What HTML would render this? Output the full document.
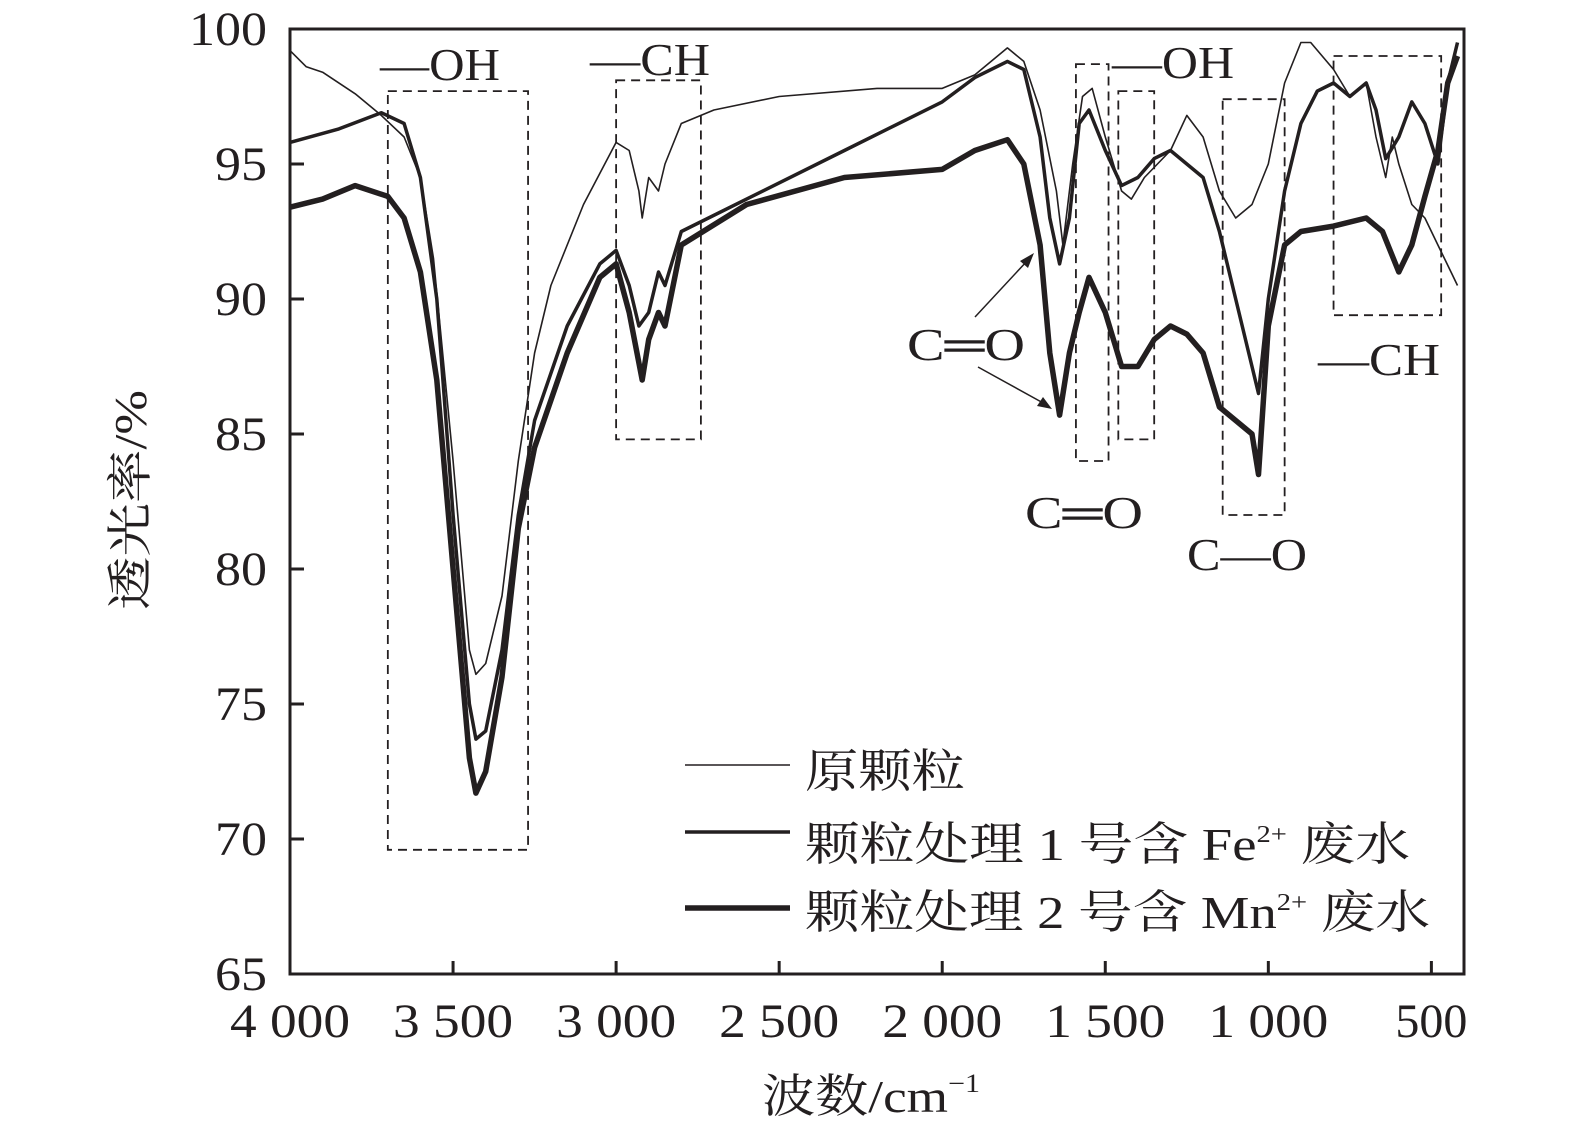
<!DOCTYPE html>
<html><head><meta charset="utf-8">
<style>
html,body{margin:0;padding:0;background:#fff;}
svg{display:block;}
text{font-family:"Liberation Serif","Noto Serif CJK SC",serif;fill:#231f20;}
</style></head>
<body>
<svg id="chart" width="1575" height="1137" viewBox="0 0 1575 1137" xmlns="http://www.w3.org/2000/svg">
<g id="boxes"></g>
<g id="series"></g>
<g id="axes"></g>
<g font-size="46">
<text x="380" y="80" textLength="120" lengthAdjust="spacingAndGlyphs">—OH</text>
<text x="590" y="75" textLength="120" lengthAdjust="spacingAndGlyphs">—CH</text>
<text x="1112" y="78" textLength="122" lengthAdjust="spacingAndGlyphs">—OH</text>
<text x="1318" y="375" textLength="122" lengthAdjust="spacingAndGlyphs">—CH</text>
<text x="907" y="360" textLength="118" lengthAdjust="spacingAndGlyphs">C═O</text>
<text x="1025" y="528" textLength="118" lengthAdjust="spacingAndGlyphs">C═O</text>
<text x="1187" y="570" textLength="120" lengthAdjust="spacingAndGlyphs">C—O</text>
<line x1="975" y1="317" x2="1028" y2="260" stroke="#231f20" stroke-width="1.5"/>
<polygon points="1034,253 1020,261 1028,268" fill="#231f20"/>
<line x1="978" y1="367" x2="1045" y2="404" stroke="#231f20" stroke-width="1.5"/>
<polygon points="1052,409 1037,406 1043,397" fill="#231f20"/>
</g>
<g font-size="46">
<line x1="685" y1="765" x2="790" y2="765" stroke="#231f20" stroke-width="1.6"/>
<text x="805" y="787" textLength="160" lengthAdjust="spacingAndGlyphs">原颗粒</text>
<line x1="685" y1="832" x2="790" y2="832" stroke="#231f20" stroke-width="3.5"/>
<text x="805" y="860" textLength="605" lengthAdjust="spacingAndGlyphs">颗粒处理 1 号含 Fe<tspan font-size="24" dy="-18">2+</tspan><tspan dy="18"> 废水</tspan></text>
<line x1="685" y1="908" x2="790" y2="908" stroke="#231f20" stroke-width="5.5"/>
<text x="805" y="928" textLength="625" lengthAdjust="spacingAndGlyphs">颗粒处理 2 号含 Mn<tspan font-size="24" dy="-18">2+</tspan><tspan dy="18"> 废水</tspan></text>
</g>
<text x="0" y="0" font-size="46" transform="translate(146,500) rotate(-90)" text-anchor="middle" textLength="220" lengthAdjust="spacingAndGlyphs">透光率/%</text>
<text x="762" y="1112" font-size="46" textLength="218" lengthAdjust="spacingAndGlyphs">波数/cm<tspan font-size="26" dy="-20">−1</tspan></text>
</svg>
<script>
const xTicks=[4000,3500,3000,2500,2000,1500,1000,500];
const xTickLabels=["4 000","3 500","3 000","2 500","2 000","1 500","1 000","500"];
const yTicks=[65,70,75,80,85,90,95,100];
const rawWN=[4000,3950,3900,3800,3720,3650,3600,3560,3500,3450,3430,3400,3350,3300,3250,3200,3100,3000,2960,2930,2920,2900,2870,2850,2800,2700,2500,2200,2000,1900,1850,1800,1750,1700,1650,1630,1600,1570,1540,1500,1450,1420,1380,1300,1250,1200,1150,1100,1050,1000,950,900,870,800,750,700,670,640,620,600,560,520,480,440,420];
const rawT=[99.2,98.6,98.4,97.6,96.8,96,94.5,91.5,84,77,76.1,76.5,79,84,88,90.5,93.5,95.8,95.5,94,93,94.5,94,95,96.5,97,97.5,97.8,97.8,98.3,98.8,99.3,98.8,97,94,92,95,97.5,97.8,96,94,93.7,94.5,95.5,96.8,96,94,93,93.5,95,98,99.5,99.5,98.5,97.5,98,96,94.5,96,95,93.5,93,92,91,90.5];
const feWN=[4000,3850,3720,3650,3600,3550,3500,3450,3430,3400,3350,3300,3250,3150,3050,3000,2960,2930,2900,2870,2850,2800,2600,2300,2000,1900,1800,1750,1700,1670,1640,1610,1580,1550,1500,1450,1400,1350,1300,1250,1200,1150,1100,1050,1030,1000,950,900,850,800,750,700,670,640,600,560,520,480,450,420];
const feT=[95.8,96.3,96.9,96.5,94.5,90,82,75,73.7,74,77,82,85.5,89,91.3,91.8,90.5,89,89.5,91,90.5,92.5,93.7,95.5,97.3,98.2,98.8,98.5,96,93,91.3,93,96.5,97,95.5,94.2,94.5,95.2,95.5,95,94.5,92.5,90,87.5,86.5,90,94,96.5,97.7,98,97.5,98,97,95.2,96,97.3,96.5,95,98,99.5];
const mnWN=[4000,3900,3800,3700,3650,3600,3550,3500,3450,3430,3400,3350,3300,3250,3150,3050,3000,2960,2920,2900,2870,2850,2800,2600,2300,2000,1900,1800,1750,1700,1670,1640,1610,1580,1550,1500,1450,1400,1350,1300,1250,1200,1150,1100,1050,1030,1000,950,900,800,700,650,600,560,520,480,450,420];
const mnT=[93.4,93.7,94.2,93.8,93,91,87,80,73,71.7,72.5,76,81.5,84.5,88,90.8,91.3,89.5,87,88.5,89.5,89,92,93.5,94.5,94.8,95.5,95.9,95,92,88,85.7,88,89.5,90.8,89.5,87.5,87.5,88.5,89,88.7,88,86,85.5,85,83.5,89,92,92.5,92.7,93,92.5,91,92,93.8,95.5,98,99];
const boxes=[[3700,97.7,3270,69.6],[3000,98.1,2740,84.8],[1590,98.7,1490,84],[1460,97.7,1350,84.8],[1140,97.4,950,82],[800,99,470,89.4]];

const X0=290,X1=1464,Y0=29,Y1=974;
const sx=w=>X0+(4000-w)/(4000-400)*(X1-X0);
const sy=t=>Y0+(100-t)/(100-65)*(Y1-Y0);
const NS="http://www.w3.org/2000/svg";
function mk(tag,attrs,parent){const e=document.createElementNS(NS,tag);for(const k in attrs)e.setAttribute(k,attrs[k]);parent.appendChild(e);return e;}
const bg=document.getElementById('boxes');
boxes.forEach(b=>{
 const r=mk('rect',{x:sx(b[0]),y:sy(b[1]),width:sx(b[2])-sx(b[0]),height:sy(b[3])-sy(b[1]),fill:'none',stroke:'#231f20','stroke-width':1.8,'stroke-dasharray':'9,6'},bg);
 
 
});
const sg=document.getElementById('series');
[[rawWN,rawT,1.6,'series-raw'],[feWN,feT,3.5,'series-fe'],[mnWN,mnT,5.5,'series-mn']].forEach(s=>{
 const d=s[0].map((w,i)=>(i?'L':'M')+sx(w).toFixed(1)+','+sy(s[1][i]).toFixed(1)).join('');
 const p=mk('path',{d:d,fill:'none',stroke:'#231f20','stroke-width':s[2],'stroke-linejoin':'round'},sg);
 
 
});
const ag=document.getElementById('axes');
const fr=mk('rect',{x:X0,y:Y0,width:X1-X0,height:Y1-Y0,fill:'none',stroke:'#231f20','stroke-width':3},ag);


xTicks.forEach((w,i)=>{
 const l=mk('line',{x1:sx(w),x2:sx(w),y1:Y1,y2:Y1-13,stroke:'#231f20','stroke-width':3},ag);
 
 
 const lbl=xTickLabels[i];
 const t=mk('text',{x:sx(w),y:Y1+63,'font-size':48,'text-anchor':'middle',textLength:lbl.length*24,lengthAdjust:'spacingAndGlyphs'},ag);
 t.textContent=lbl;
 
 
});
yTicks.forEach(v=>{
 const l=mk('line',{x1:X0,x2:X0+14,y1:sy(v),y2:sy(v),stroke:'#231f20','stroke-width':3},ag);
 
 
 const s=String(v);
 const t=mk('text',{x:267,y:sy(v)+16,'font-size':48,'text-anchor':'end',textLength:s.length*26,lengthAdjust:'spacingAndGlyphs'},ag);
 t.textContent=s;
 
 
});
</script>
</body></html>
